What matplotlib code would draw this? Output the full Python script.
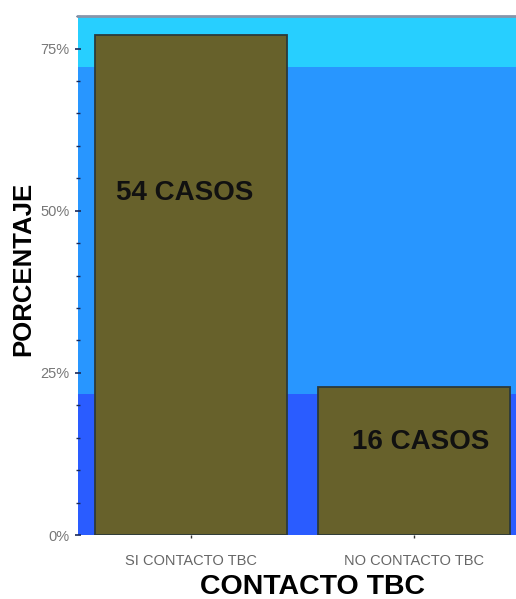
import matplotlib
matplotlib.use("Agg")
import matplotlib.pyplot as plt
from matplotlib.ticker import MultipleLocator, FuncFormatter

plt.rcParams['font.family'] = ['Liberation Sans', 'DejaVu Sans']

categories = ["SI CONTACTO TBC", "NO CONTACTO TBC"]
cases = [54, 16]
total = sum(cases)
percentages = [c / total * 100 for c in cases]
bar_labels = [f"{c} CASOS" for c in cases]

# background wall bands (percent limits) and their colours
band_edges = [0, 21.8, 72.2, 80]
band_colors = ["#2a5cff", "#2896ff", "#27cfff"]

fig = plt.figure(figsize=(5.16, 5.99), dpi=100)
ax = fig.add_axes([0.151, 0.1068, 0.849, 0.8662])

for lo, hi, col in zip(band_edges[:-1], band_edges[1:], band_colors):
    ax.axhspan(lo, hi, color=col, zorder=0, lw=0)

x = list(range(len(categories)))
bars = ax.bar(x, percentages, width=0.86, color="#67612b",
              edgecolor="#2c3a3a", linewidth=1.3, zorder=2)

label_y = [52.8, 14.3]
label_dx = [-0.03, 0.03]
for xi, lab, ly, dx in zip(x, bar_labels, label_y, label_dx):
    ax.text(xi + dx, ly, lab, ha="center", va="center", fontsize=20,
            fontweight="bold", color="#111111", zorder=3)

ax.set_xlim(-0.507, 1.457)
ax.set_ylim(0, 80)
ax.yaxis.set_major_locator(MultipleLocator(25))
ax.yaxis.set_minor_locator(MultipleLocator(5))
ax.yaxis.set_major_formatter(FuncFormatter(lambda v, p: f"{int(v)}%"))

ax.set_xticks(x)
ax.set_xticklabels(categories, fontsize=10.5, color="#666666")
ax.tick_params(axis="y", which="major", labelsize=10.5, labelcolor="#777777",
               length=4, width=1.2, color="#1a2a5a", direction="inout", pad=4)
ax.tick_params(axis="y", which="minor", length=3, width=1.0,
               color="#1a2a5a", direction="inout")
ax.tick_params(axis="x", length=2, width=1, color="#333333", pad=12)

for s in ["left", "right", "bottom"]:
    ax.spines[s].set_visible(False)
ax.spines["top"].set_color("#8795aa")
ax.spines["top"].set_linewidth(2.0)

ax.set_xlabel("CONTACTO TBC", fontsize=20.5, fontweight="bold", labelpad=4)
ax.set_ylabel("PORCENTAJE", fontsize=18.5, fontweight="bold", labelpad=4)
ax.xaxis.label.set_x(0.5365)
ax.yaxis.label.set_y(0.5125)

fig.savefig("out.png", dpi=100)
